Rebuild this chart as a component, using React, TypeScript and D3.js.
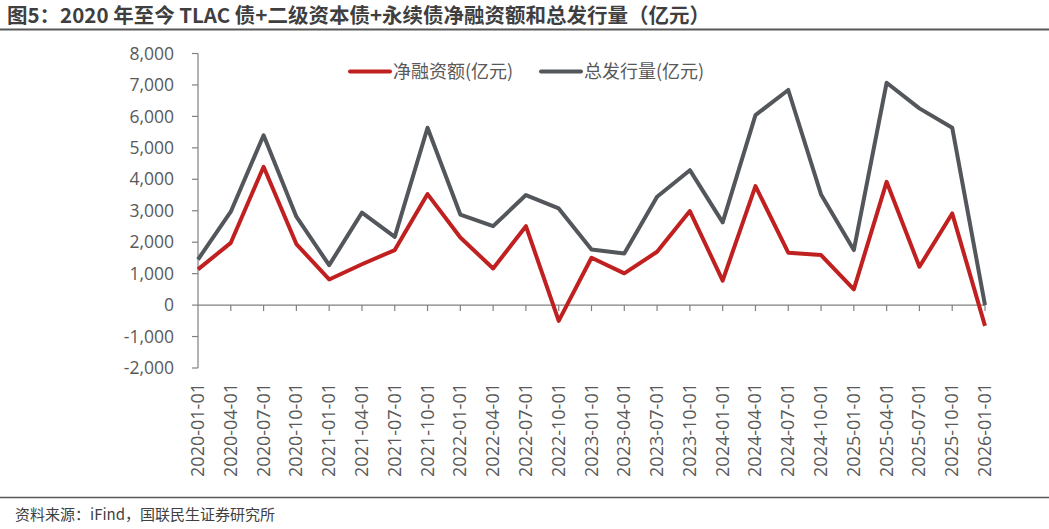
import { useRef, useEffect } from 'react';
import * as d3 from 'd3';

const dates = [
  '2020-01-01', '2020-04-01', '2020-07-01', '2020-10-01',
  '2021-01-01', '2021-04-01', '2021-07-01', '2021-10-01',
  '2022-01-01', '2022-04-01', '2022-07-01', '2022-10-01',
  '2023-01-01', '2023-04-01', '2023-07-01', '2023-10-01',
  '2024-01-01', '2024-04-01', '2024-07-01', '2024-10-01',
  '2025-01-01', '2025-04-01', '2025-07-01', '2025-10-01',
  '2026-01-01',
];
const netFinancing = [
  1135, 1980, 4400, 1940, 815, 1300, 1750, 3530,
  2150, 1165, 2510, -500, 1505, 1010, 1695, 2990,
  780, 3785, 1665, 1590, 500, 3920, 1220, 2915, -660,
];
const totalIssuance = [
  1450, 2970, 5400, 2810, 1270, 2940, 2170, 5640,
  2880, 2510, 3500, 3075, 1770, 1640, 3445, 4290,
  2630, 6040, 6840, 3520, 1750, 7070, 6255, 5640, 0,
];
const yTicks = [-2000, -1000, 0, 1000, 2000, 3000, 4000, 5000, 6000, 7000, 8000];
const seriesNames = ['净融资额(亿元)', '总发行量(亿元)'];
const seriesColors = ['#c0201f', '#53565a'];

const W = 1049;
const H = 529;
const FONT = '"Open Sans", "Noto Sans CJK SC", sans-serif';
const CJK = '"Noto Sans CJK SC", sans-serif';

// hyphen-minus like the source chart, not the unicode minus
const fmt = d3.formatLocale({ decimal: '.', thousands: ',', grouping: [3], currency: ['', ''], minus: '-' }).format(',');

export default function App() {
  const svgRef = useRef<SVGSVGElement>(null);

  useEffect(() => {
    const svg = d3.select(svgRef.current);
    svg.selectAll('*').remove();

    const left = 198, right = 985, top = 53.5, bottom = 368;

    const x = d3.scalePoint<string>().domain(dates).range([left, right]);
    const y = d3.scaleLinear().domain([-2000, 8000]).range([bottom, top]);

    // Title
    svg.append('text').attr('x', 7).attr('y', 23)
      .attr('font-family', CJK)
      .attr('font-weight', 'bold').attr('font-size', 20.5).attr('fill', '#3f3f3f')
      .text('图5：2020 年至今 TLAC 债+二级资本债+永续债净融资额和总发行量（亿元）');
    svg.append('line').attr('x1', 0).attr('x2', W).attr('y1', 29.5).attr('y2', 29.5)
      .attr('stroke', '#595959').attr('stroke-width', 2);

    // Y axis
    const axisColor = '#808080';
    svg.append('line').attr('x1', left).attr('x2', left).attr('y1', y(8000)).attr('y2', y(-2000))
      .attr('stroke', axisColor).attr('stroke-width', 1.2);
    yTicks.forEach(t => {
      svg.append('line').attr('x1', left - 6).attr('x2', left).attr('y1', y(t)).attr('y2', y(t))
        .attr('stroke', axisColor).attr('stroke-width', 1.2);
      svg.append('text').attr('x', 174).attr('y', y(t)).attr('dy', '0.35em')
        .attr('text-anchor', 'end').attr('font-family', FONT).attr('font-size', 17.5)
        .attr('fill', '#595959').text(fmt(t));
    });

    // X axis at zero
    svg.append('line').attr('x1', left).attr('x2', right).attr('y1', y(0)).attr('y2', y(0))
      .attr('stroke', axisColor).attr('stroke-width', 1.2);
    dates.forEach((d, i) => {
      if (i > 0) {
        svg.append('line').attr('x1', x(d)!).attr('x2', x(d)!).attr('y1', y(0)).attr('y2', y(0) + 6)
          .attr('stroke', axisColor).attr('stroke-width', 1.2);
      }
      svg.append('text')
        .attr('transform', `translate(${x(d)! + 6},383) rotate(-90)`)
        .attr('text-anchor', 'end').attr('font-family', FONT).attr('font-size', 18)
        .attr('fill', '#595959').text(d);
    });

    // Lines (grey first, red on top)
    const line = d3.line<number>().x((_, i) => x(dates[i])!).y(v => y(v));
    [totalIssuance, netFinancing].forEach((s, k) => {
      svg.append('path').datum(s)
        .attr('d', line).attr('fill', 'none')
        .attr('stroke', seriesColors[1 - k]).attr('stroke-width', 4)
        .attr('stroke-linejoin', 'round');
    });

    // Legend
    const legendX = [350, 541];
    seriesNames.forEach((n, k) => {
      svg.append('line').attr('x1', legendX[k]).attr('x2', legendX[k] + 40)
        .attr('y1', 71.5).attr('y2', 71.5)
        .attr('stroke', seriesColors[k]).attr('stroke-width', 4).attr('stroke-linecap', 'round');
      svg.append('text').attr('x', legendX[k] + 43).attr('y', 71.5).attr('dy', '0.35em')
        .attr('font-family', CJK).attr('font-size', 18).attr('fill', '#595959').text(n);
    });

    // Bottom rule and source
    svg.append('line').attr('x1', 0).attr('x2', W).attr('y1', 497.5).attr('y2', 497.5)
      .attr('stroke', '#595959').attr('stroke-width', 1.5);
    svg.append('text').attr('x', 15).attr('y', 515).attr('dy', '0.35em')
      .attr('font-family', CJK).attr('font-size', 15)
      .attr('fill', '#404040').text('资料来源：iFind，国联民生证券研究所');
  }, []);

  return (
    <svg ref={svgRef} width={W} height={H}
      style={{ position: 'absolute', left: 0, top: 0, background: '#fff' }} />
  );
}
